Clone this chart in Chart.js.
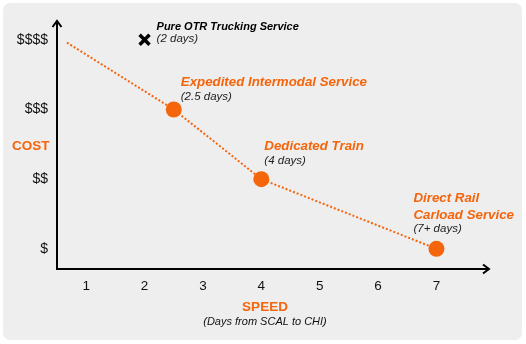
<!DOCTYPE html>
<html>
<head>
<meta charset="utf-8">
<script src="https://cdn.jsdelivr.net/npm/chart.js@4.4.1/dist/chart.umd.min.js"></script>
<style>
    body { margin: 0; background: #ffffff; }
    #panel {
        position: absolute; left: 3px; top: 3px; width: 519px; height: 337px;
        background: #eeeeee; border-radius: 7px;
    }
    #chart { position: absolute; left: 0; top: 0; }
</style>
</head>
<body>
<div id="panel"></div>
<canvas id="chart" width="526" height="344"></canvas>
<script>
'use strict'

// data
const xTickValues = [1, 2, 3, 4, 5, 6, 7];
const yTickValues = [1, 2, 3, 4];
const yTickLabels = ['$', '$$', '$$$', '$$$$'];

const railServices = ['Expedited Intermodal Service', 'Dedicated Train', 'Direct Rail\nCarload Service'];
const railDaysText = ['(2.5 days)', '(4 days)', '(7+ days)'];
const railSpeed = [2.5, 4, 7];
const railCost = [3, 2, 1];

const trendSpeed = [0.67, 2.5, 4, 7];
const trendCost = [3.96, 3, 2, 1];

const truckService = 'Pure OTR Trucking Service';
const truckDaysText = '(2 days)';
const truckSpeed = [2];
const truckCost = [4];

const ORANGE = '#f4650c';
const FONT = '"Liberation Sans", Arial, Helvetica, sans-serif';

const toPoints = (xs, ys) => xs.map((x, i) => ({ x: x, y: ys[i] }));

// label offsets in pixels from each point
const railLabelOffsets = [[7, -23], [3, -29], [-23, -47]];

const axesPlugin = {
    id: 'axesPlugin',
    afterDatasetsDraw(chart) {
        const ctx = chart.ctx;
        const area = chart.chartArea;
        ctx.save();
        ctx.strokeStyle = '#000';
        ctx.lineWidth = 2;
        // y axis
        ctx.beginPath();
        ctx.moveTo(area.left, area.bottom + 1);
        ctx.lineTo(area.left, area.top);
        ctx.stroke();
        ctx.beginPath();
        ctx.moveTo(area.left - 4.5, area.top + 6);
        ctx.lineTo(area.left, area.top);
        ctx.lineTo(area.left + 4.5, area.top + 6);
        ctx.stroke();
        // x axis
        ctx.beginPath();
        ctx.moveTo(area.left - 1, area.bottom);
        ctx.lineTo(area.right, area.bottom);
        ctx.stroke();
        ctx.beginPath();
        ctx.moveTo(area.right - 6, area.bottom - 4.5);
        ctx.lineTo(area.right, area.bottom);
        ctx.lineTo(area.right - 6, area.bottom + 4.5);
        ctx.stroke();
        ctx.restore();
    }
};

const labelsPlugin = {
    id: 'labelsPlugin',
    afterDraw(chart) {
        const ctx = chart.ctx;
        const xs = chart.scales.x;
        const ys = chart.scales.y;
        ctx.save();
        ctx.textBaseline = 'alphabetic';
        ctx.textAlign = 'left';

        // rail service labels
        railServices.forEach((name, i) => {
            const px = xs.getPixelForValue(railSpeed[i]) + railLabelOffsets[i][0];
            let py = ys.getPixelForValue(railCost[i]) + railLabelOffsets[i][1];
            ctx.fillStyle = ORANGE;
            ctx.font = 'italic bold 13.3px ' + FONT;
            name.split('\n').forEach((line, j) => {
                ctx.fillText(line, px, py + j * 17);
            });
            const lines = name.split('\n').length;
            ctx.fillStyle = '#222';
            ctx.font = 'italic 11.5px ' + FONT;
            ctx.fillText(railDaysText[i], px, py + (lines - 1) * 17 + 13.5);
        });

        // trucking label
        const tx = xs.getPixelForValue(truckSpeed[0]) + 12;
        const ty = ys.getPixelForValue(truckCost[0]);
        ctx.fillStyle = '#000';
        ctx.font = 'italic bold 11px ' + FONT;
        ctx.fillText(truckService, tx, ty - 10);
        ctx.fillStyle = '#222';
        ctx.font = 'italic 11.5px ' + FONT;
        ctx.fillText(truckDaysText, tx, ty + 2);

        // axis titles
        ctx.fillStyle = ORANGE;
        ctx.font = 'bold 13.5px ' + FONT;
        ctx.textAlign = 'left';
        ctx.fillText('COST', 12, 150);
        ctx.textAlign = 'center';
        const midX = 265;
        ctx.fillText('SPEED', midX, 311);
        ctx.fillStyle = '#111';
        ctx.font = 'italic 11px ' + FONT;
        ctx.fillText('(Days from SCAL to CHI)', midX, 325);
        ctx.restore();
    }
};

new Chart(document.getElementById('chart'), {
    type: 'scatter',
    data: {
        datasets: [
            {
                data: toPoints(trendSpeed, trendCost),
                showLine: true,
                borderColor: ORANGE,
                borderWidth: 2,
                borderDash: [2, 2],
                pointRadius: 0,
                fill: false
            },
            {
                data: toPoints(railSpeed, railCost),
                pointRadius: 8,
                pointBackgroundColor: ORANGE,
                pointBorderWidth: 0,
                borderColor: ORANGE
            },
            {
                data: toPoints(truckSpeed, truckCost),
                pointStyle: 'crossRot',
                pointRadius: 7,
                pointBorderWidth: 3.5,
                borderColor: '#000'
            }
        ]
    },
    options: {
        responsive: false,
        animation: false,
        layout: { padding: { top: 21, right: 37, bottom: 0, left: 0 } },
        plugins: {
            legend: { display: false },
            tooltip: { enabled: false }
        },
        scales: {
            x: {
                type: 'linear',
                min: 0.5,
                max: 7.9,
                grid: { display: false, drawTicks: false },
                border: { display: false },
                afterFit: (scale) => { scale.height = 75; },
                afterBuildTicks: (scale) => { scale.ticks = xTickValues.map(v => ({ value: v })); },
                ticks: {
                    padding: 9,
                    color: '#111',
                    font: { family: FONT, size: 13.5 },
                    callback: (value) => String(value)
                }
            },
            y: {
                type: 'linear',
                min: 0.71,
                max: 4.27,
                grid: { display: false, drawTicks: false },
                border: { display: false },
                afterFit: (scale) => { scale.width = 57; },
                afterBuildTicks: (scale) => { scale.ticks = yTickValues.map(v => ({ value: v })); },
                ticks: {
                    padding: 9,
                    color: '#111',
                    font: { family: FONT, size: 14 },
                    callback: (value) => yTickLabels[yTickValues.indexOf(value)]
                }
            }
        }
    },
    plugins: [axesPlugin, labelsPlugin]
});
</script>
</body>
</html>
